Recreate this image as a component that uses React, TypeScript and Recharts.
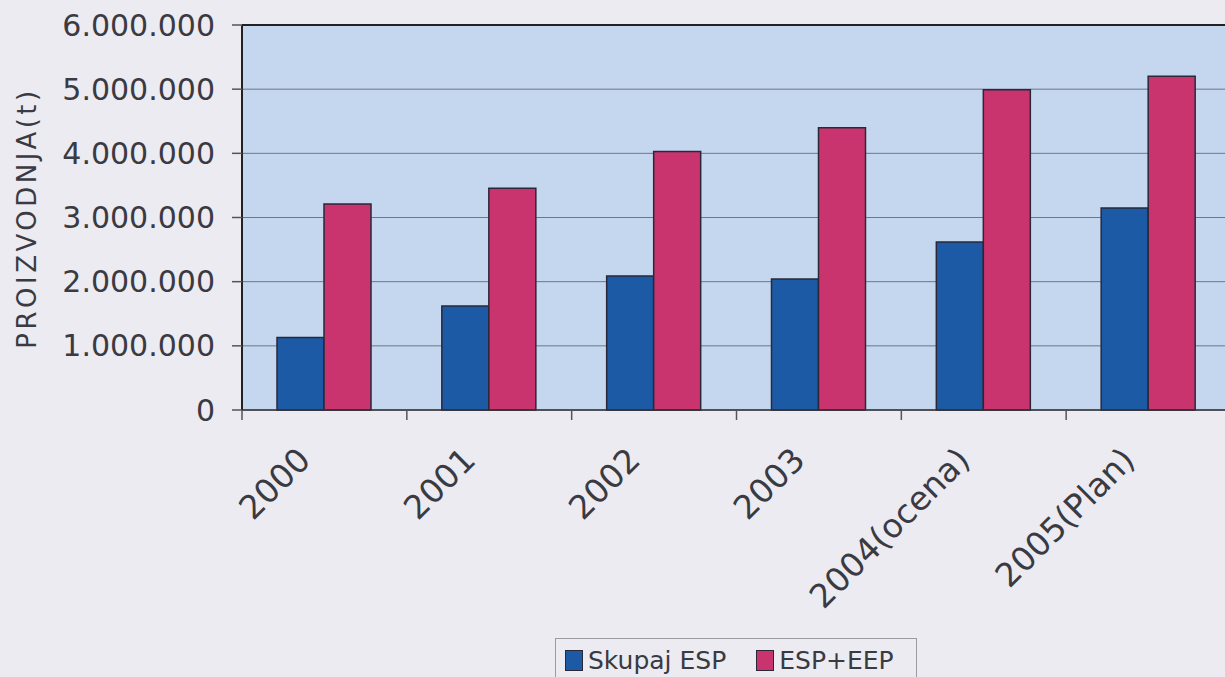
import React from 'react';
import { BarChart, Bar, XAxis, YAxis, CartesianGrid, ReferenceLine } from 'recharts';

const categories = ['2000', '2001', '2002', '2003', '2004(ocena)', '2005(Plan)'];
const skupajEsp = [1130000, 1620000, 2090000, 2040000, 2620000, 3150000];
const espEep = [3210000, 3455000, 4030000, 4400000, 4990000, 5200000];
const yTicks = [0, 1000000, 2000000, 3000000, 4000000, 5000000, 6000000];

const data = categories.map((name, i) => ({ name, skupaj: skupajEsp[i], eep: espEep[i] }));

const FONT = '"DejaVu Sans", sans-serif';
const TEXT = '#3a3a42';
const BLUE = '#1c5aa6';
const PINK = '#c9346f';
const EDGE = '#2a2838';

const fmt = (v: number) => String(v).replace(/\B(?=(\d{3})+(?!\d))/g, '.');

// category ticks sit on the band edges, labels rotated at the band centre
const XTick = (props: any) => {
  const { x, y, payload } = props;
  const half = payload && payload.offset ? payload.offset : 82;
  const axisY = y - 8;
  const left = x - half;
  const tx = x - 12;
  const ty = axisY + 52;
  return (
    <g>
      <line x1={left} y1={axisY} x2={left} y2={axisY + 10} stroke="#555" strokeWidth={1.5} />
      <text
        x={tx}
        y={ty}
        transform={`rotate(-45, ${tx}, ${ty})`}
        textAnchor="end"
        fontSize={33}
        fontFamily={FONT}
        fill={TEXT}
      >
        {payload.value}
      </text>
    </g>
  );
};

const YLabel = () => (
  <text
    x={36}
    y={218}
    transform="rotate(-90, 36, 218)"
    textAnchor="middle"
    fontSize={26}
    fontFamily={FONT}
    letterSpacing={3.5}
    fill={TEXT}
  >
    PROIZVODNJA(t)
  </text>
);

const swatch = (c: string) => (
  <span
    style={{
      display: 'inline-block',
      width: 16,
      height: 19,
      background: c,
      border: `1.5px solid ${EDGE}`,
      marginRight: 5,
      verticalAlign: -2,
    }}
  />
);

export default function App() {
  return (
    <div
      style={{
        position: 'fixed',
        left: 0,
        top: 0,
        width: 1225,
        height: 677,
        overflow: 'hidden',
        background: '#ecebf2',
      }}
    >
      <BarChart
        width={1260}
        height={677}
        data={data}
        margin={{ top: 25, right: 29, bottom: 117, left: 0 }}
        barCategoryGap={35}
        barGap={0}
      >
        <CartesianGrid vertical={false} stroke="#6f7784" strokeWidth={1} fill="#c4d7ee" fillOpacity={1} />
        <XAxis
          dataKey="name"
          height={150}
          interval={0}
          axisLine={{ stroke: '#333', strokeWidth: 1.5 }}
          tickLine={false}
          tick={<XTick />}
        />
        <YAxis
          width={242}
          domain={[0, 6000000]}
          ticks={yTicks}
          tickFormatter={fmt}
          axisLine={{ stroke: '#222', strokeWidth: 2 }}
          tickLine={{ stroke: '#555', strokeWidth: 1.5 }}
          tickSize={10}
          tickMargin={17}
          tick={{ fontSize: 30, fontFamily: FONT, fill: TEXT }}
          label={<YLabel />}
        />
        <ReferenceLine y={6000000} stroke="#222" strokeWidth={2} />
        <Bar dataKey="skupaj" name="Skupaj ESP" fill={BLUE} stroke={EDGE} strokeWidth={1.5} isAnimationActive={false} />
        <Bar dataKey="eep" name="ESP+EEP" fill={PINK} stroke={EDGE} strokeWidth={1.5} isAnimationActive={false} />
      </BarChart>
      <div
        style={{
          position: 'absolute',
          left: 555,
          top: 638,
          width: 362,
          height: 50,
          border: '1px solid #9a9aa2',
          fontFamily: FONT,
          fontSize: 25,
          color: TEXT,
          boxSizing: 'border-box',
          padding: '7px 0 0 9px',
          whiteSpace: 'nowrap',
        }}
      >
        {swatch(BLUE)}
        <span style={{ marginRight: 30 }}>Skupaj ESP</span>
        {swatch(PINK)}
        <span>ESP+EEP</span>
      </div>
    </div>
  );
}
